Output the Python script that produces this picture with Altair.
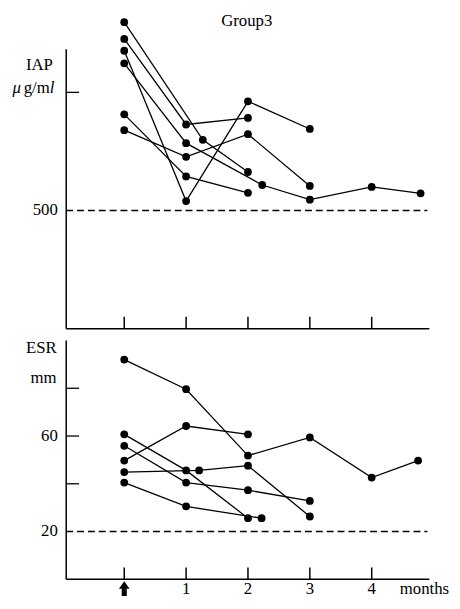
import altair as alt
import pandas as pd

FONT = "Liberation Serif, Times New Roman, serif"
FS = 17

# ---------------- data ----------------
month_ticks = [0, 1, 2, 3, 4]
month_tick_labels = ["1", "2", "3", "4"]
month_label_pos = [1, 2, 3, 4]

# IAP (ug/ml) per patient
iap_patient = [1, 1, 1,
               2, 2, 2,
               3, 3, 3, 3,
               4, 4, 4, 4, 4, 4,
               5, 5, 5,
               6, 6, 6, 6]
iap_month = [0, 1.27, 2,
             0, 1, 2,
             0, 1, 2, 3,
             0, 1, 2.23, 3, 4, 4.79,
             0, 1, 2,
             0, 1, 2, 3]
iap_value = [1297, 799, 663,
             1226, 864, 892,
             1176, 540, 962, 845,
             1123, 785, 608, 546, 600, 573,
             907, 644, 575,
             840, 727, 823, 604]

# ESR (mm) per patient
esr_patient = [1, 1, 1, 1, 1, 1,
               2, 2, 2,
               3, 3, 3,
               4, 4, 4, 4,
               5, 5, 5, 5,
               6, 6, 6]
esr_month = [0, 1, 2, 3, 4, 4.75,
             0, 1, 2,
             0, 1, 2,
             0, 1, 2, 3,
             0, 1.21, 2, 3,
             0, 1, 2.22]
esr_value = [92.0, 79.6, 51.8, 59.4, 42.6, 49.7,
             49.7, 64.2, 60.7,
             60.7, 45.6, 25.6,
             55.9, 40.5, 37.3, 32.8,
             44.9, 45.6, 47.6, 26.3,
             40.5, 30.5, 25.6]

iap_ref = [500]
iap_ticks = [1000]
iap_tick_labels = ["500"]
iap_axis_top = [1182]

esr_ref = [20]
esr_ticks = [40, 60, 80]
esr_tick_labels = ["20", "60"]
esr_tick_label_vals = [20, 60]
esr_axis_top = [100]

# ---------------- scales ----------------
W = 450
H_TOP = 324
H_BOT = 269
xs = alt.Scale(domain=[-1.879, 5.298], nice=False, zero=False)
ys_top = alt.Scale(domain=[-16.7, 1336], nice=False, zero=False)
ys_bot = alt.Scale(domain=[-7.85, 103.3], nice=False, zero=False)

AX = 59      # y-axis line x (px)
AX_END = 427  # x-axis right end
DASH_END = 425


def X(f):
    return alt.X(f, scale=xs, axis=None)


def panel(pat, mon, val, ys, ref, ticks, axis_top, h):
    df = pd.DataFrame({"patient": pat, "month": mon, "value": val})
    Y = lambda f: alt.Y(f, scale=ys, axis=None)
    base_y = h * (ys.domain[1]) / (ys.domain[1] - ys.domain[0])

    yaxis = alt.Chart(pd.DataFrame({"y1": axis_top, "y0": [0]})).mark_rule(
        color="black", strokeWidth=1.5
    ).encode(x=alt.value(AX), y=Y("y1:Q"), y2="y0:Q")

    xaxis = alt.Chart(pd.DataFrame({"y": [0]})).mark_rule(
        color="black", strokeWidth=1.5
    ).encode(x=alt.value(AX), x2=alt.value(AX_END), y=Y("y:Q"))

    xt = alt.Chart(pd.DataFrame({"m": month_ticks})).mark_rule(
        color="black", strokeWidth=1.5
    ).encode(x=X("m:Q"), y=alt.value(base_y - 12), y2=alt.value(base_y))

    yt = alt.Chart(pd.DataFrame({"v": ticks})).mark_rule(
        color="black", strokeWidth=1.3
    ).encode(x=alt.value(AX), x2=alt.value(AX + 13), y=Y("v:Q"))

    dash = alt.Chart(pd.DataFrame({"v": ref})).mark_rule(
        color="black", strokeWidth=1.4, strokeDash=[7, 4]
    ).encode(x=alt.value(AX), x2=alt.value(DASH_END), y=Y("v:Q"))

    lines = alt.Chart(df).mark_line(color="black", strokeWidth=1.3).encode(
        x=X("month:Q"), y=Y("value:Q"), detail="patient:N", order="month:Q"
    )
    pts = alt.Chart(df).mark_circle(color="black", opacity=1, size=62).encode(
        x=X("month:Q"), y=Y("value:Q")
    )
    return [yaxis, xaxis, xt, yt, dash, lines, pts], Y, base_y


def txt(text, x, y, align="right", baseline="alphabetic", style="normal", size=FS):
    return alt.Chart(pd.DataFrame({"t": [text]})).mark_text(
        align=align, baseline=baseline, font=FONT, fontSize=size,
        fontStyle=style, color="black"
    ).encode(x=alt.value(x), y=alt.value(y), text="t:N")


# ---------------- top panel ----------------
layers_t, Yt, base_t = panel(iap_patient, iap_month, iap_value, ys_top,
                              iap_ref, iap_ticks, iap_axis_top, H_TOP)
lab500 = alt.Chart(pd.DataFrame({"t": iap_tick_labels, "v": iap_ref})).mark_text(
    align="right", baseline="middle", font=FONT, fontSize=FS, color="black"
).encode(x=alt.value(50.5), y=Yt("v:Q"), text="t:N")

top = alt.layer(
    *layers_t, lab500,
    txt("Group3", 242, 0, align="center", baseline="top"),
    txt("IAP", 45.5, 58),
    txt("l", 47, 81, style="italic"),
    txt("g/m", 42.3, 81),
    txt("\u03bc", 13, 81, style="italic"),
).properties(width=W, height=H_TOP)

# ---------------- bottom panel ----------------
layers_b, Yb, base_b = panel(esr_patient, esr_month, esr_value, ys_bot,
                              esr_ref, esr_ticks, esr_axis_top, H_BOT)
lab_esr = alt.Chart(pd.DataFrame({"t": esr_tick_labels, "v": esr_tick_label_vals})).mark_text(
    align="right", baseline="middle", font=FONT, fontSize=FS, color="black"
).encode(x=alt.value(50.5), y=Yb("v:Q"), text="t:N")

mlab = alt.Chart(pd.DataFrame({"t": month_tick_labels, "m": month_label_pos})).mark_text(
    align="center", baseline="alphabetic", font=FONT, fontSize=FS, color="black"
).encode(x=X("m:Q"), y=alt.value(base_b + 15), text="t:N")

arrow = alt.Chart(pd.DataFrame({"m": [0]})).mark_point(
    shape="M-0.34,1L0.34,1L0.34,0L0.72,0L0,-1L-0.72,0L-0.34,0Z",
    filled=True, color="black", opacity=1, size=225, strokeWidth=0
).encode(x=X("m:Q"), y=alt.value(base_b + 9.5))

bottom = alt.layer(
    *layers_b, lab_esr, mlab, arrow,
    txt("ESR", 49.3, 20.7),
    txt("mm", 49.3, 50.7),
    txt("months", 397, base_b + 15, align="left"),
).properties(width=W, height=H_BOT)

chart = alt.vconcat(
    top, bottom, spacing=0, bounds="flush", padding=0, background="white"
).configure_view(strokeWidth=0, stroke="transparent")

chart.save("out.html", embed_options={"renderer": "svg", "actions": False})
